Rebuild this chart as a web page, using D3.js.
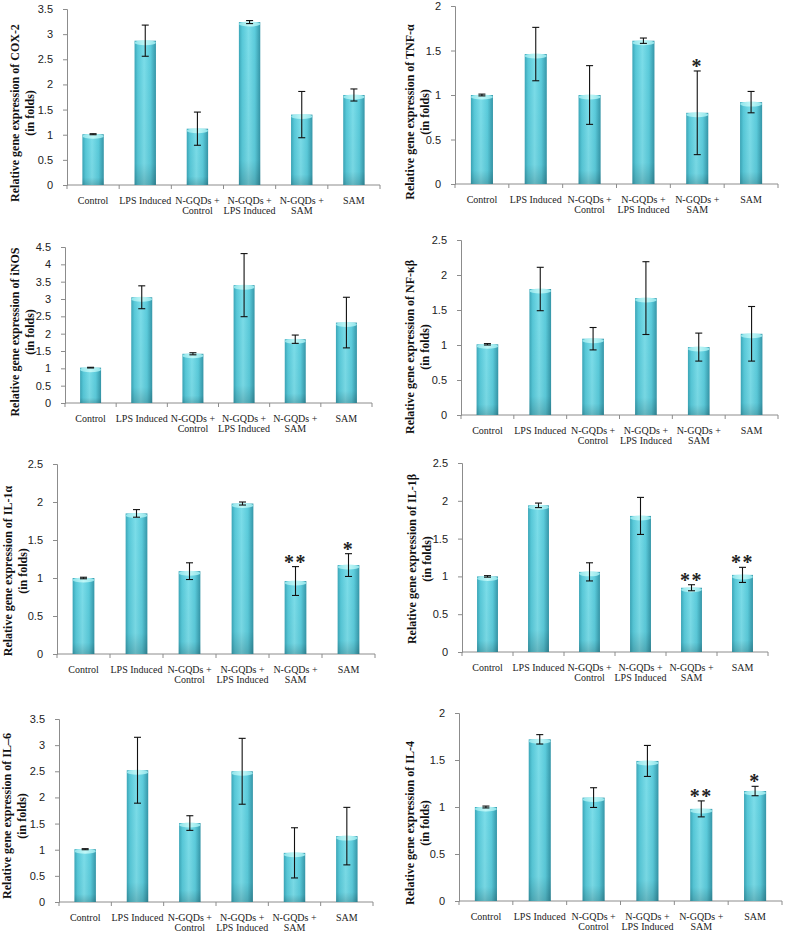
<!DOCTYPE html>
<html lang="en">
<head>
  <meta charset="UTF-8">
  <title>Relative gene expression</title>
  <script src="https://d3js.org/d3.v7.min.js"></script>
  <style>
    body { margin: 0; background: #fff; }
    .tick text { font-family: "Liberation Sans", Arial, sans-serif; font-size: 11px; fill: #222; }
    .cat { font-family: "Liberation Serif", "Times New Roman", serif; font-size: 10px; fill: #222; }
    .ytitle { font-family: "Liberation Serif", "Times New Roman", serif; font-size: 12px; font-weight: bold; fill: #111; }
    .star { font-family: "Liberation Serif", "Times New Roman", serif; font-size: 20px; font-weight: bold; fill: #222; }
  </style>
</head>
<body>
  <svg id="fig" width="789" height="933"></svg>

  <script>
    // categories (two-line labels)
    const categories = [
      ["Control"], ["LPS Induced"], ["N-GQDs +", "Control"],
      ["N-GQDs +", "LPS Induced"], ["N-GQDs +", "SAM"], ["SAM"]
    ];

    // means and error (SD)
    const cox2Mean = [1.01, 2.87, 1.12, 3.24, 1.40, 1.79];
    const cox2Err  = [0.01, 0.31, 0.33, 0.03, 0.46, 0.12];
    const tnfMean  = [1.00, 1.46, 1.00, 1.61, 0.80, 0.92];
    const tnfErr   = [0.01, 0.30, 0.33, 0.03, 0.47, 0.12];
    const inosMean = [1.02, 3.05, 1.42, 3.40, 1.84, 2.32];
    const inosErr  = [0.01, 0.33, 0.03, 0.91, 0.12, 0.73];
    const nfkbMean = [1.01, 1.80, 1.09, 1.67, 0.97, 1.16];
    const nfkbErr  = [0.01, 0.31, 0.16, 0.52, 0.20, 0.39];
    const il1aMean = [1.00, 1.85, 1.09, 1.98, 0.96, 1.17];
    const il1aErr  = [0.01, 0.05, 0.11, 0.02, 0.19, 0.15];
    const il1bMean = [1.00, 1.94, 1.06, 1.80, 0.85, 1.02];
    const il1bErr  = [0.01, 0.03, 0.12, 0.245, 0.04, 0.10];
    const il6Mean  = [1.01, 2.52, 1.51, 2.50, 0.94, 1.26];
    const il6Err   = [0.01, 0.63, 0.14, 0.63, 0.48, 0.55];
    const il4Mean  = [1.00, 1.72, 1.10, 1.49, 0.98, 1.17];
    const il4Err   = [0.01, 0.05, 0.105, 0.165, 0.085, 0.05];

    // significance marks
    const noStars   = ["", "", "", "", "", ""];
    const tnfStars  = ["", "", "", "", "*", ""];
    const il1aStars = ["", "", "", "", "**", "*"];
    const il1bStars = ["", "", "", "", "**", "**"];
    const il4Stars  = ["", "", "", "", "**", "*"];

    // axis maxima (step 0.5)
    const genes = ["COX-2", "TNF-α", "iNOS", "NF-κβ", "IL-1α", "IL-1β", "IL–6", "IL-4"];
    const yMax = [3.5, 2, 4.5, 2.5, 2.5, 2.5, 3.5, 2];
    const means = [cox2Mean, tnfMean, inosMean, nfkbMean, il1aMean, il1bMean, il6Mean, il4Mean];
    const errs = [cox2Err, tnfErr, inosErr, nfkbErr, il1aErr, il1bErr, il6Err, il4Err];
    const stars = [noStars, tnfStars, noStars, noStars, il1aStars, il1bStars, noStars, il4Stars];

    // panel placement in the figure
    const layout = [
      { x0: 67,  x1: 380, yTop: 9,   y0: 185, tx: 15,  ty: 113 },
      { x0: 455, x1: 778, yTop: 6,   y0: 184, tx: 410, ty: 112 },
      { x0: 65,  x1: 372, yTop: 247, y0: 403, tx: 15,  ty: 332 },
      { x0: 461, x1: 778, yTop: 240, y0: 415, tx: 410, ty: 347 },
      { x0: 57,  x1: 375, yTop: 464, y0: 654, tx: 8,   ty: 571 },
      { x0: 462, x1: 768, yTop: 463, y0: 652, tx: 412, ty: 559 },
      { x0: 59,  x1: 373, yTop: 719, y0: 902, tx: 7,   ty: 816 },
      { x0: 459, x1: 782, yTop: 713, y0: 901, tx: 410, ty: 823 }
    ];

    const svg = d3.select("#fig");
    const defs = svg.append("defs");

    const body = defs.append("linearGradient").attr("id", "barBody")
      .attr("x1", "0%").attr("x2", "100%").attr("y1", "0%").attr("y2", "0%");
    [["0%", "#3ba6b8"], ["15%", "#57c8d8"], ["45%", "#7bdde9"], ["75%", "#5bcbdb"], ["100%", "#3596a8"]]
      .forEach(([o, c]) => body.append("stop").attr("offset", o).attr("stop-color", c));

    const shade = defs.append("linearGradient").attr("id", "barShade")
      .attr("x1", "0%").attr("x2", "0%").attr("y1", "0%").attr("y2", "100%");
    [["0%", "#000", 0], ["85%", "#000", 0.03], ["100%", "#000", 0.18]]
      .forEach(([o, c, a]) => shade.append("stop").attr("offset", o).attr("stop-color", c).attr("stop-opacity", a));

    const cap = defs.append("linearGradient").attr("id", "barCap")
      .attr("x1", "0%").attr("x2", "100%");
    [["0%", "#8fe3ea"], ["50%", "#c0f7f7"], ["100%", "#8fe3ea"]]
      .forEach(([o, c]) => cap.append("stop").attr("offset", o).attr("stop-color", c));

    genes.forEach((gene, i) => drawPanel(i));

    function drawPanel(i) {
      const L = layout[i];
      const g = svg.append("g");
      const idx = d3.range(categories.length);

      const x = d3.scaleBand().domain(idx).range([L.x0, L.x1]).paddingInner(0).paddingOuter(0);
      const y = d3.scaleLinear().domain([0, yMax[i]]).range([L.y0, L.yTop]);
      const bw = x.bandwidth() * 0.41;
      const cx = k => x(k) + x.bandwidth() / 2;

      // y axis
      const yAxis = d3.axisLeft(y)
        .tickValues(d3.range(0, yMax[i] + 0.01, 0.5))
        .tickFormat(d => String(+d.toFixed(1)))
        .tickSize(4).tickPadding(10);
      const ya = g.append("g").attr("transform", `translate(${L.x0},0)`).call(yAxis);
      ya.select(".domain").attr("stroke", "#8c8c8c");
      ya.selectAll(".tick line").attr("stroke", "#8c8c8c");

      // x axis line with ticks between categories
      g.append("line").attr("x1", L.x0).attr("x2", L.x1).attr("y1", L.y0).attr("y2", L.y0)
        .attr("stroke", "#8c8c8c");
      g.selectAll(".xt").data(d3.range(categories.length + 1)).join("line")
        .attr("x1", k => L.x0 + k * x.step()).attr("x2", k => L.x0 + k * x.step())
        .attr("y1", L.y0).attr("y2", L.y0 + 4).attr("stroke", "#8c8c8c");

      // category labels
      const lab = g.selectAll(".cat").data(idx).join("text").attr("class", "cat")
        .attr("text-anchor", "middle");
      lab.selectAll("tspan").data(k => categories[k].map(t => ({ k, t }))).join("tspan")
        .attr("x", d => cx(d.k))
        .attr("y", (d, j) => L.y0 + 19 + j * 10)
        .text(d => d.t);

      // bars
      const bars = g.selectAll(".bar").data(idx).join("g");
      bars.append("rect")
        .attr("x", k => x(k) + (x.bandwidth() - bw) / 2)
        .attr("width", bw)
        .attr("y", k => y(means[i][k]))
        .attr("height", k => L.y0 - y(means[i][k]))
        .attr("fill", "url(#barBody)");
      bars.append("rect")
        .attr("x", k => x(k) + (x.bandwidth() - bw) / 2)
        .attr("width", bw)
        .attr("y", k => y(means[i][k]))
        .attr("height", k => L.y0 - y(means[i][k]))
        .attr("fill", "url(#barShade)");
      bars.append("ellipse")
        .attr("cx", cx)
        .attr("cy", k => y(means[i][k]) + 2)
        .attr("rx", bw / 2).attr("ry", 2.5)
        .attr("fill", "url(#barCap)");

      // error bars
      const eb = g.selectAll(".err").data(idx).join("g").attr("stroke", "#111").attr("stroke-width", 1.1);
      const hi = k => y(means[i][k] + errs[i][k]);
      const lo = k => y(means[i][k] - errs[i][k]);
      eb.append("line").attr("x1", cx).attr("x2", cx).attr("y1", hi).attr("y2", lo);
      eb.append("line").attr("x1", k => cx(k) - 3.5).attr("x2", k => cx(k) + 3.5).attr("y1", hi).attr("y2", hi);
      eb.append("line").attr("x1", k => cx(k) - 3.5).attr("x2", k => cx(k) + 3.5).attr("y1", lo).attr("y2", lo);

      // significance stars
      g.selectAll(".star").data(idx.filter(k => stars[i][k])).join("text").attr("class", "star")
        .attr("text-anchor", "middle")
        .attr("letter-spacing", 1.5)
        .attr("x", k => cx(k))
        .attr("y", k => hi(k) + 2)
        .text(k => stars[i][k]);

      // y title
      const t = g.append("text").attr("class", "ytitle").attr("text-anchor", "middle")
        .attr("transform", `translate(${L.tx + 4},${L.ty}) rotate(-90)`);
      t.append("tspan").attr("x", 0).attr("y", 0).text("Relative gene expression of " + genes[i]);
      t.append("tspan").attr("x", 0).attr("y", 15).text("(in folds)");
    }
  </script>
</body>
</html>
